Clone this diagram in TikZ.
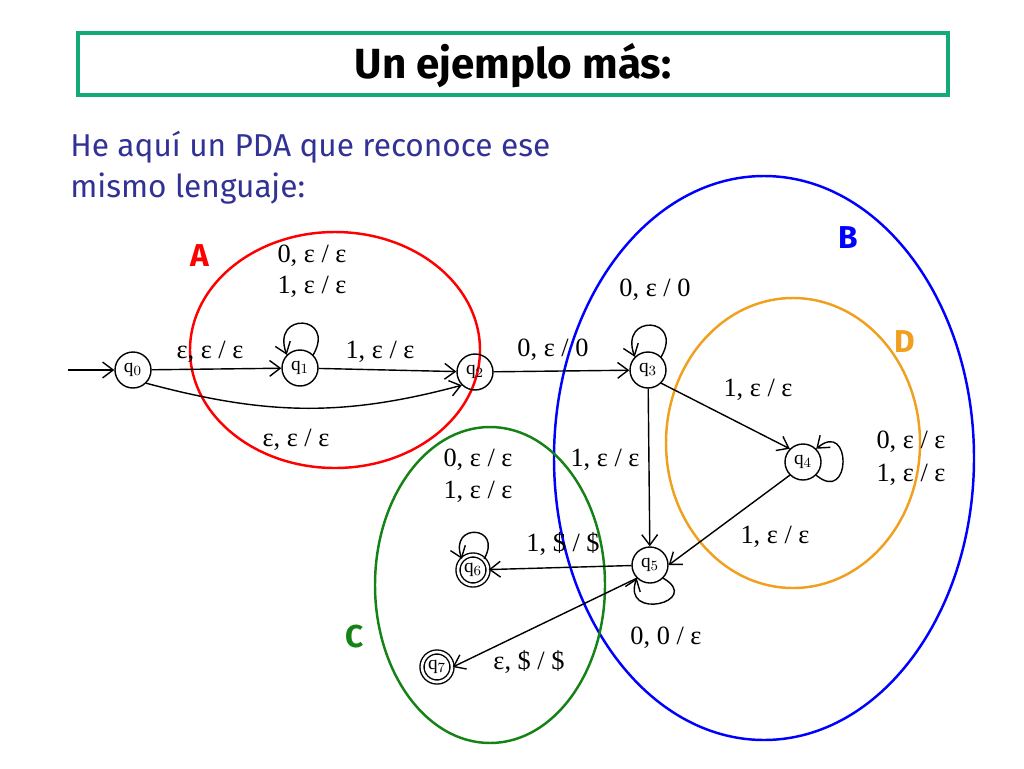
\documentclass[tikz,border=0pt]{standalone}
\usepackage{fontspec}
\setmainfont{Liberation Serif}
\newfontfamily\sansf{Fira Sans}
\usetikzlibrary{arrows.meta}
\definecolor{titgreen}{RGB}{20,170,120}
\definecolor{txtblue}{RGB}{50,50,150}
\definecolor{orng}{RGB}{240,160,30}
\definecolor{grn}{RGB}{20,130,20}
\newcommand{\ee}{ε}
\begin{document}
\begin{tikzpicture}[x=0.02cm,y=-0.02cm,
  st/.style={circle,draw,thick,minimum size=0.72cm,inner sep=0pt,font=\fontsize{11}{12}\selectfont},
  acc/.style={st,double,double distance=1.5pt,minimum size=0.6cm},
  lb/.style={font=\fontsize{15}{17}\selectfont,inner sep=1pt},
  big/.style={font=\sansf\bfseries\fontsize{18}{20}\selectfont},
  ed/.style={-{Straight Barb[length=6pt,width=9pt]},thick},
  ell/.style={line width=1.4pt}]
\useasboundingbox (0,0) rectangle (1024,768);
\node[draw=titgreen,line width=2.5pt,minimum width=17.4cm,minimum height=1.24cm,inner sep=0pt] (title) at (513,64) {};
\node[font=\sansf\bfseries\fontsize{24}{26}\selectfont] (tt) at (513,66) {Un ejemplo más:};
\node[anchor=north west,align=left,text=txtblue,font=\sansf\fontsize{18}{23}\selectfont,inner sep=0pt] (intro) at (70,131) {He aquí un PDA que reconoce ese\\mismo lenguaje:};
% ellipses
\draw[ell,red] (335,350) ellipse [x radius=145,y radius=118];
\draw[ell,blue] (764,458) ellipse [x radius=210,y radius=282];
\draw[ell,orng] (793,443) ellipse [x radius=127,y radius=145];
\draw[ell,grn] (490,585) ellipse [x radius=115,y radius=158];
\node[big,red] (A) at (200,256) {A};
\node[big,blue] (B) at (848,238) {B};
\node[big,orng] (D) at (905,342) {D};
\node[big,grn] (C) at (355,637) {C};
% states
\node[st] (q0) at (133,370) {q$_0$};
\node[st] (q1) at (300,368) {q$_1$};
\node[st] (q2) at (475,372) {q$_2$};
\node[st] (q3) at (648,370) {q$_3$};
\node[st] (q4) at (803,462) {q$_4$};
\node[st] (q5) at (650,565) {q$_5$};
\node[acc] (q6) at (473,570) {q$_6$};
\node[acc] (q7) at (437,667) {q$_7$};
\coordinate (init) at (68,370);
% edges
\draw[ed] (init) -- (q0);
\draw[ed] (q0) -- (q1);
\draw[ed] (q1) -- (q2);
\draw[ed] (q2) -- (q3);
\draw[ed] (q0.south east) to[out=-15,in=-165] (q2.south west);
\draw[ed] (q3.south east) -- (q4.north west);
\draw[ed] (q3) -- (q5);
\draw[ed] (q4.south west) -- (q5.east);
\draw[ed] (q5) -- (q6);
\draw[ed] (q5.south west) -- (q7.east);
\draw[ed] (q1.north east) to[out=60,in=110,looseness=4.5] (q1.north west);
\draw[ed] (q3.north east) to[out=60,in=110,looseness=4.5] (q3.north west);
\draw[ed] (q6.north east) to[out=60,in=110,looseness=4.5] (q6.north west);
\draw[ed] (q4.south east) to[out=-40,in=40,looseness=4.5] (q4.north east);
\draw[ed] (q5.south east) to[out=-30,in=-110,looseness=4.5] (q5.south west);
% labels
\node[lb] (l01) at (210,352) {\ee, \ee{} / \ee};
\node[lb] (l11a) at (312,256) {0, \ee{} / \ee};
\node[lb] (l11b) at (312,287) {1, \ee{} / \ee};
\node[lb] (l12) at (380,352) {1, \ee{} / \ee};
\node[lb] (l02) at (296,440) {\ee, \ee{} / \ee};
\node[lb] (l23) at (553,350) {0, \ee{} / 0};
\node[lb] (l33) at (655,290) {0, \ee{} / 0};
\node[lb] (l34) at (758,390) {1, \ee{} / \ee};
\node[lb] (l44a) at (911,442) {0, \ee{} / \ee};
\node[lb] (l44b) at (911,475) {1, \ee{} / \ee};
\node[lb] (l35) at (605,460) {1, \ee{} / \ee};
\node[lb] (l45) at (775,537) {1, \ee{} / \ee};
\node[lb] (l56) at (563,544) {1, \$ / \$};
\node[lb] (l66a) at (478,460) {0, \ee{} / \ee};
\node[lb] (l66b) at (478,492) {1, \ee{} / \ee};
\node[lb] (l55) at (666,638) {0, 0 / \ee};
\node[lb] (l57) at (529,662) {\ee, \$ / \$};
\end{tikzpicture}
\end{document}
